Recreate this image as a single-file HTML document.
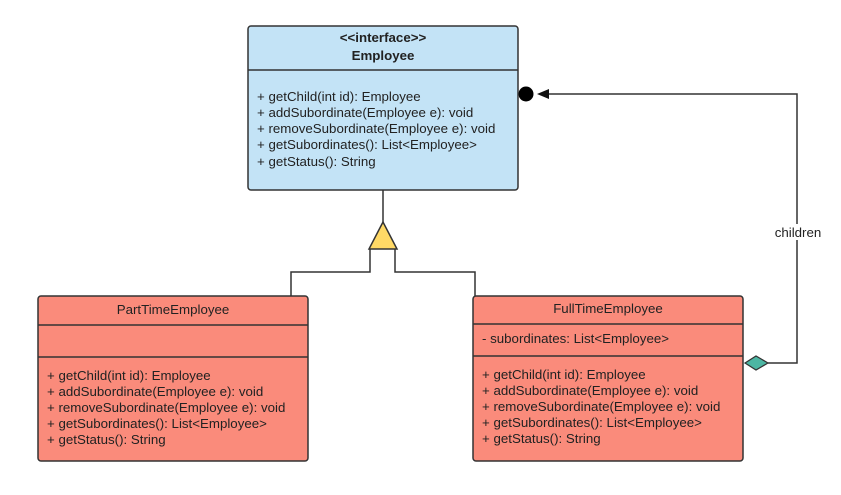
<!DOCTYPE html>
<html><head><meta charset="utf-8"><style>
body{margin:0;background:#fff;}
svg text{font-family:"Liberation Sans",Arial,sans-serif;font-size:13.3px;fill:#222;}
</style></head><body>
<svg width="841" height="490" viewBox="0 0 841 490" xmlns="http://www.w3.org/2000/svg">
<rect x="0" y="0" width="841" height="490" fill="#fff"/>
<g fill="none" stroke="#333" stroke-width="1.5">
<path d="M383 190 V222"/>
<path d="M370 249 V272 H291 V296"/>
<path d="M395 249 V272 H475 V296"/>
<path d="M768 363 H797 V94 H548"/>
</g>
<polygon points="383,222 369,249 397,249" fill="#ffd966" stroke="#333" stroke-width="1.5"/>
<polygon points="537,94 549,89 549,99" fill="#111"/>
<circle cx="526" cy="94" r="7.5" fill="#000"/>
<polygon points="745,363 756,356 768,363 756,370" fill="#4db6a3" stroke="#333" stroke-width="1.2"/>
<rect x="770" y="224" width="56" height="16" fill="#fff"/>
<text x="798" y="237" text-anchor="middle">children</text>
<rect x="248" y="26" width="270" height="164" rx="3" fill="#c3e3f6" stroke="#333" stroke-width="1.5"/>
<line x1="248" y1="70" x2="518" y2="70" stroke="#333" stroke-width="1.5"/>
<text x="383" y="42" text-anchor="middle" font-weight="bold">&lt;&lt;interface&gt;&gt;</text>
<text x="383" y="60" text-anchor="middle" font-weight="bold">Employee</text>
<text x="257" y="101">+ getChild(int id): Employee</text>
<text x="257" y="117">+ addSubordinate(Employee e): void</text>
<text x="257" y="133">+ removeSubordinate(Employee e): void</text>
<text x="257" y="149">+ getSubordinates(): List&lt;Employee&gt;</text>
<text x="257" y="166">+ getStatus(): String</text>
<rect x="38" y="296" width="270" height="165" rx="3" fill="#fa8b7b" stroke="#333" stroke-width="1.5"/>
<line x1="38" y1="325" x2="308" y2="325" stroke="#333" stroke-width="1.5"/>
<line x1="38" y1="357" x2="308" y2="357" stroke="#333" stroke-width="1.5"/>
<text x="173" y="314" text-anchor="middle">PartTimeEmployee</text>
<text x="47" y="380">+ getChild(int id): Employee</text>
<text x="47" y="396">+ addSubordinate(Employee e): void</text>
<text x="47" y="412">+ removeSubordinate(Employee e): void</text>
<text x="47" y="428">+ getSubordinates(): List&lt;Employee&gt;</text>
<text x="47" y="444">+ getStatus(): String</text>
<rect x="473" y="296" width="270" height="165" rx="3" fill="#fa8b7b" stroke="#333" stroke-width="1.5"/>
<line x1="473" y1="324" x2="743" y2="324" stroke="#333" stroke-width="1.5"/>
<line x1="473" y1="356" x2="743" y2="356" stroke="#333" stroke-width="1.5"/>
<text x="608" y="313" text-anchor="middle">FullTimeEmployee</text>
<text x="482" y="343">- subordinates: List&lt;Employee&gt;</text>
<text x="482" y="379">+ getChild(int id): Employee</text>
<text x="482" y="395">+ addSubordinate(Employee e): void</text>
<text x="482" y="411">+ removeSubordinate(Employee e): void</text>
<text x="482" y="427">+ getSubordinates(): List&lt;Employee&gt;</text>
<text x="482" y="443">+ getStatus(): String</text>
</svg>
</body></html>
